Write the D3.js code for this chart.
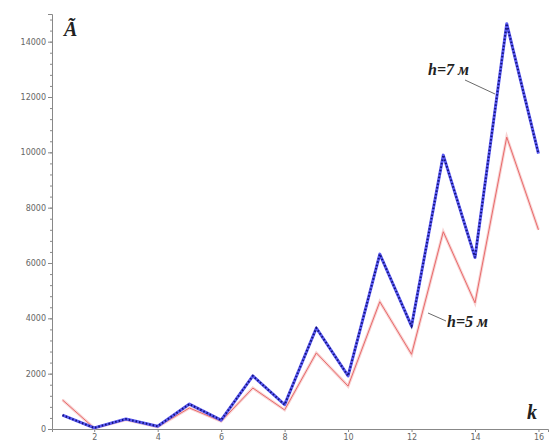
<!DOCTYPE html>
<html>
<head>
<meta charset="UTF-8">
<script src="https://d3js.org/d3.v7.min.js"></script>
<style>
  body { margin: 0; background: #fff; }
  .axis text { font-family: "DejaVu Sans", sans-serif; font-size: 8px; fill: #666; }
  .axis path, .axis line { stroke: #888; }
  .lbl { font-family: "Liberation Serif", serif; font-weight: bold; font-style: italic; fill: #222; }
</style>
</head>
<body>
<svg id="chart" width="555" height="441"></svg>
<script>
// k values and series
const kValues = [1, 2, 3, 4, 5, 6, 7, 8, 9, 10, 11, 12, 13, 14, 15, 16];
const h7 = [500, 40, 360, 100, 900, 320, 1920, 880, 3650, 1920, 6320, 3720, 9900, 6200, 14650, 9950];
const h5 = [1050, 30, 330, 80, 760, 280, 1480, 690, 2750, 1550, 4600, 2700, 7130, 4560, 10550, 7200];
const xTicks = [2, 4, 6, 8, 10, 12, 14, 16];
const yTicks = [0, 2000, 4000, 6000, 8000, 10000, 12000, 14000];

const svg = d3.select("#chart");
const x = d3.scaleLinear().domain([0.67, 16.3]).range([52, 548]);
const y = d3.scaleLinear().domain([0, 15000]).range([429, 14]);

// axes
svg.append("g").attr("class", "axis")
  .attr("transform", "translate(0,429)")
  .call(d3.axisBottom(x).tickValues(xTicks).tickSize(3).tickPadding(2).tickFormat(d3.format("d")));

svg.append("g").attr("class", "axis")
  .attr("transform", "translate(52,0)")
  .call(d3.axisLeft(y).tickValues(d3.range(0, 15001, 400)).tickSize(2).tickFormat(""))
  .call(g => g.select(".domain").remove());

svg.append("g").attr("class", "axis")
  .attr("transform", "translate(52,0)")
  .call(d3.axisLeft(y).tickValues(yTicks).tickSize(4).tickPadding(2).tickFormat(d3.format("d")));

const line = d3.line().x((d, i) => x(kValues[i])).y(d => y(d));

// h=5 (red, thin)
svg.append("path").datum(h5)
  .attr("fill", "none").attr("stroke", "#f8d4d4").attr("stroke-width", 3)
  .attr("d", line);
svg.append("path").datum(h5)
  .attr("fill", "none").attr("stroke", "#e86a6a").attr("stroke-width", 1)
  .attr("d", line);

// h=7 (blue, dotted)
svg.append("path").datum(h7)
  .attr("fill", "none").attr("stroke", "#5a5af2").attr("stroke-width", 3)
  .attr("stroke-linejoin", "round")
  .attr("d", line);
svg.append("path").datum(h7)
  .attr("fill", "none").attr("stroke", "#12127a").attr("stroke-width", 2)
  .attr("stroke-dasharray", "1.5,2")
  .attr("d", line);

// labels
svg.append("text").attr("class", "lbl").attr("x", 428).attr("y", 75)
  .attr("font-size", 16).text("h=7 м");
svg.append("line").attr("x1", 465).attr("y1", 80).attr("x2", 495).attr("y2", 94)
  .attr("stroke", "#444").attr("stroke-width", 0.8);

svg.append("text").attr("class", "lbl").attr("x", 447).attr("y", 327)
  .attr("font-size", 16).text("h=5 м");
svg.append("line").attr("x1", 428).attr("y1", 313).attr("x2", 446).attr("y2", 321)
  .attr("stroke", "#444").attr("stroke-width", 0.8);

svg.append("text").attr("class", "lbl").attr("x", 527).attr("y", 419)
  .attr("font-size", 20).text("k");

svg.append("text").attr("class", "lbl").attr("x", 64).attr("y", 36)
  .attr("font-size", 20).attr("font-weight", "normal").text("Ã");
</script>
</body>
</html>
